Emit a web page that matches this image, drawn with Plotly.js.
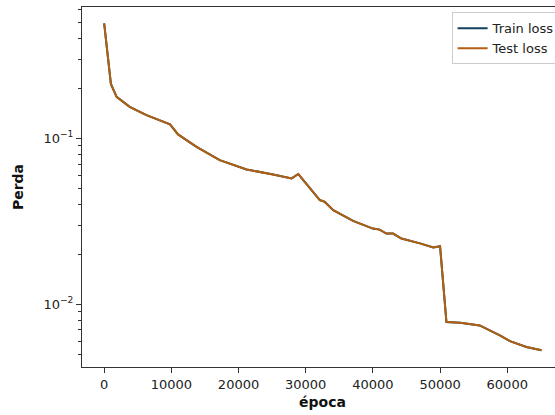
<!DOCTYPE html>
<html>
<head>
<meta charset="utf-8">
<script src="https://cdn.plot.ly/plotly-3.0.1.min.js"></script>
<style>html,body{margin:0;padding:0;overflow:hidden;background:#fff;width:555px;height:415px}</style>
</head>
<body>
<div id="chart"></div>
<script>
const epochs = [0, 1000, 1850, 3800, 6300, 9800, 11000, 13750, 17200, 21200, 25150, 27900, 28900, 30600, 32100, 32850, 34100, 37050, 40000, 41000, 42000, 43000, 44250, 47000, 49000, 50000, 50950, 53000, 55900, 58900, 60400, 62850, 65100];
const trainLoss = [0.494, 0.213, 0.178, 0.155, 0.138, 0.1216, 0.1057, 0.089, 0.074, 0.065, 0.0605, 0.0574, 0.061, 0.0499, 0.0425, 0.0414, 0.0369, 0.0318, 0.0286, 0.0282, 0.0267, 0.0267, 0.0249, 0.0233, 0.0220, 0.0224, 0.00782, 0.00775, 0.00746, 0.0065, 0.0060, 0.00553, 0.00528];
const testLoss = [0.494, 0.213, 0.178, 0.155, 0.138, 0.1216, 0.1057, 0.089, 0.074, 0.065, 0.0605, 0.0574, 0.061, 0.0499, 0.0425, 0.0414, 0.0369, 0.0318, 0.0286, 0.0282, 0.0267, 0.0267, 0.0249, 0.0233, 0.0220, 0.0224, 0.00782, 0.00775, 0.00746, 0.0065, 0.0060, 0.00553, 0.00528];
const xTicks = [0, 10000, 20000, 30000, 40000, 50000, 60000];
const yTicks = [0.01, 0.1];
const yTickText = ['10<sup>−2</sup>', '10<sup>−1</sup>'];
const seriesNames = ['Train loss', 'Test loss'];

const minorY = [];
for (let d = 0.001; d < 1; d *= 10) {
  for (let k = 2; k <= 9; k++) minorY.push(k * d);
}

const traces = [
  {x: epochs, y: trainLoss, name: seriesNames[0], mode: 'lines', line: {color: '#12405e', width: 2}},
  {x: epochs, y: testLoss, name: seriesNames[1], mode: 'lines', line: {color: '#b06010', width: 2}}
];

const axisCommon = {
  showline: true, linecolor: '#333', linewidth: 1, mirror: true,
  ticks: 'outside', ticklen: 5, tickwidth: 1, tickcolor: '#333',
  showgrid: false, zeroline: false,
  tickfont: {family: 'DejaVu Sans', size: 13, color: '#222'}
};

const layout = {
  width: 570, height: 415,
  margin: {l: 82, r: 7, t: 7, b: 48},
  paper_bgcolor: '#fff', plot_bgcolor: '#fff',
  font: {family: 'DejaVu Sans', size: 13, color: '#222'},
  showlegend: true,
  legend: {x: 0.995, xanchor: 'right', y: 0.985, yanchor: 'top',
    bordercolor: '#ccc', borderwidth: 1, bgcolor: 'rgba(255,255,255,0.9)',
    font: {family: 'DejaVu Sans', size: 13, color: '#222'}, tracegroupgap: 0, itemwidth: 30},
  xaxis: Object.assign({}, axisCommon, {
    range: [-3300, 68300], tickmode: 'array', tickvals: xTicks,
    ticktext: xTicks.map(String),
    title: {text: '<b>época</b>', font: {family: 'DejaVu Sans', size: 14, color: '#111'}, standoff: 6}
  }),
  yaxis: Object.assign({}, axisCommon, {
    type: 'log', range: [-2.378, -0.208], tickmode: 'array', tickvals: yTicks, ticktext: yTickText,
    minor: {tickmode: 'array', tickvals: minorY, ticks: 'outside', ticklen: 3, tickcolor: '#333', showgrid: false},
    title: {text: '<b>Perda</b>', font: {family: 'DejaVu Sans', size: 14, color: '#111'}, standoff: 16}
  })
};

Plotly.newPlot('chart', traces, layout, {displayModeBar: false, staticPlot: true});
</script>
</body>
</html>
